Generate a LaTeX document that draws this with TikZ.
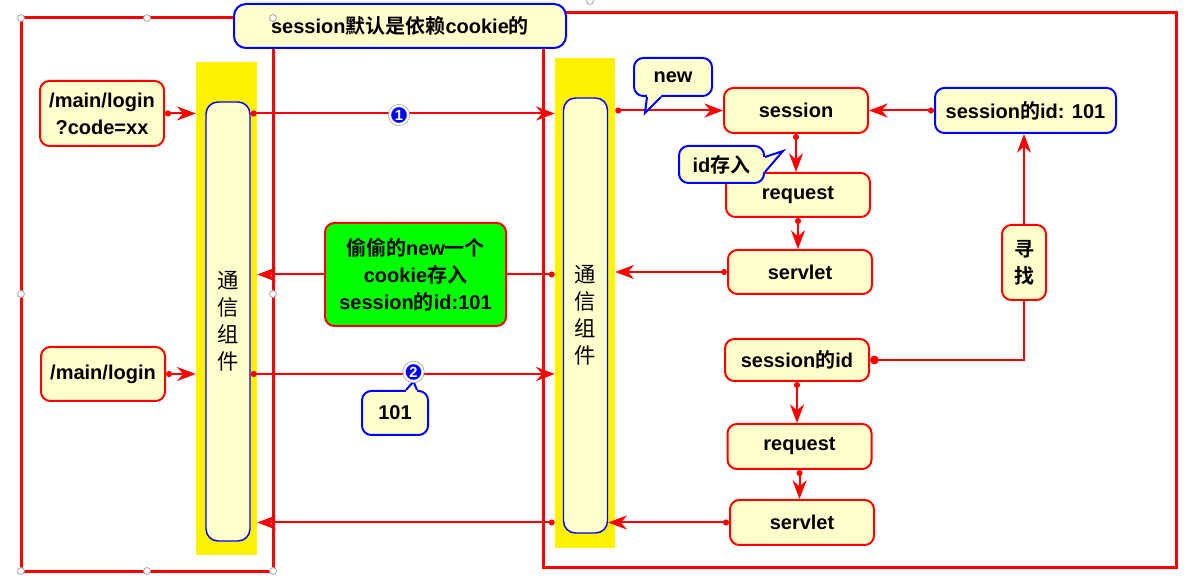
\documentclass[tikz,border=0pt]{standalone}
\usepackage{fontspec}
\setmainfont{Liberation Sans}
\newfontfamily\cjk{Noto Sans CJK SC}[BoldFont={Noto Sans CJK SC Bold}]
\usetikzlibrary{arrows.meta}
\usepackage{xcolor}

\definecolor{paleyellow}{HTML}{FFFFCC}
\definecolor{linkred}{HTML}{FF0000}
\definecolor{calloutblue}{HTML}{0000FF}
\definecolor{stealgreen}{HTML}{00FF00}
\newcommand{\zh}[1]{{\cjk #1}}

\tikzset{
	frame/.style={draw=linkred, line width=2.25pt},
	strip/.style={fill=yellow, inner sep=0pt},
	comm/.style={draw=calloutblue, fill=paleyellow, line width=1.1pt, rounded corners=9pt, minimum width=33pt, inner sep=0pt, align=center, font=\cjk\fontsize{16}{20.25}\selectfont},
	redbox/.style={draw=linkred, fill=paleyellow, line width=1.5pt, rounded corners=7pt, inner sep=0pt, align=center, minimum width=108pt, minimum height=33.75pt, font=\fontsize{15}{20.25}\selectfont\bfseries},
	bluebox/.style={redbox, draw=calloutblue},
	tip/.style={-{Stealth[length=14pt,width=10.5pt,inset=4.5pt]}},
	arrow/.style={draw=linkred, line width=1.5pt, tip},
	link/.style={arrow, {Circle[length=4.5pt]}-{Stealth[length=14pt,width=10.5pt,inset=4.5pt]}},
	wire/.style={draw=linkred, line width=1.5pt, {Circle[length=4.5pt]}-},
	num/.style={circle, fill=calloutblue, draw=gray!70, double=white, double distance=1.4pt, line width=0.5pt, inner sep=0pt, minimum size=14pt, text=white, font=\fontsize{11}{11}\selectfont\bfseries},
	handle/.style={draw=gray!70, fill=white, line width=0.6pt}
}

\begin{document}
\begin{tikzpicture}[x=0.75pt, y=-0.75pt]
	% Parameters
	\def\r{2.6pt}
	
	\useasboundingbox (0,0) rectangle (1193,584);
	
	%frames
	\draw[frame] (21,18) rectangle (273,571);
	\draw[frame] (543,13) rectangle (1176,567);
	
	%strips
	\node[strip, minimum width=45.75pt, minimum height=369.75pt] (stripL) at (226.5,308.5) {};
	\node[strip, minimum width=45pt, minimum height=367.5pt] (stripR) at (585,303) {};
	\node[comm, minimum height=329.25pt] (comL) at (228,321.5) {通\\信\\组\\件};
	\node[comm, minimum height=326.25pt] (comR) at (585.5,315.5) {通\\信\\组\\件};
	
	%client
	\node[redbox, minimum width=93pt, minimum height=48.75pt] (lg1) at (102,113.5) {/main/login\\?code=xx};
	\node[redbox, minimum width=93pt, minimum height=40.5pt] (lg2) at (103,374) {/main/login};
	
	%server
	\node[redbox] (ss) at (796,110.5) {session};
	\node[bluebox, minimum width=135.75pt] (sid101) at (1025.5,110.5) {session\zh{的}id: 101};
	\node[redbox, minimum height=33pt] (req1) at (798,195) {request};
	\node[redbox, minimum height=33pt] (srv1) at (800,272) {servlet};
	\node[redbox, minimum width=33pt, minimum height=56.25pt] (find) at (1024,262.5) {\zh{寻}\\\zh{找}};
	\node[redbox, minimum height=31.5pt] (sid) at (797,360) {session\zh{的}id};
	\node[redbox] (req2) at (799.5,446.5) {request};
	\node[redbox] (srv2) at (802,522.5) {servlet};
	
	%cookie
	\node[redbox, fill=stealgreen, minimum width=135.75pt, minimum height=77.25pt] (steal) at (415.5,274.5) {\zh{偷偷的}new\zh{一个}\\cookie\zh{存入}\\session\zh{的}id:101};
	
	%arrows
	\draw[link] (lg1.east) -- (lg1.east -| stripL.west);
	\draw[link] (lg1.east -| comL.east) -- (lg1.east -| stripR.west);
	\draw[link] (stripR.east |- ss.west) -- (ss.west);
	\draw[link] (sid101.west) -- (ss.east);
	\draw[link] (ss.south) -- (ss.south |- req1.north);
	\draw[link] (req1.south) -- (req1.south |- srv1.north);
	\draw[link] (srv1.west) -- (srv1.west -| stripR.east);
	\draw[wire] (stripR.west |- steal.east) -- (steal.east);
	\draw[arrow] (steal.west) -- (steal.west -| stripL.east);
	\draw[arrow] (find.north) -- (find.north |- sid101.south);
	\draw[wire, {Circle[length=6.5pt]}-] (sid.east) -- (sid.east -| find.south) -- (find.south);
	\draw[link] (sid.south) -- (sid.south |- req2.north);
	\draw[link] (req2.south) -- (req2.south |- srv2.north);
	\draw[link] (srv2.west) -- (srv2.west -| comR.east);
	\draw[link] (stripR.west |- srv2.west) -- (stripL.east |- srv2.west);
	\draw[link] (lg2.east) -- (lg2.east -| stripL.west);
	\draw[link] (lg2.east -| comL.east) -- (lg2.east -| stripR.west);
	
	%callouts
	\node[bluebox, minimum width=58.5pt, minimum height=28.5pt] (new) at (673,77) {new};
	\coordinate (newtip) at (645,113);
	\fill[paleyellow] ([xshift=-19.5pt]new.south) -- (newtip) -- ([xshift=-9pt]new.south) -- ([xshift=-9pt,yshift=2pt]new.south) -- ([xshift=-19.5pt,yshift=2pt]new.south) -- cycle;
	\draw[calloutblue, line width=1.5pt] ([xshift=-19.5pt]new.south) -- (newtip) -- ([xshift=-9pt]new.south);
	
	\node[bluebox, minimum width=63.75pt, minimum height=27.75pt] (idin) at (721.5,164.5) {id\zh{存入}};
	\coordinate (idtip) at (783,151);
	\fill[paleyellow] ([yshift=5.6pt]idin.east) -- (idtip) -- ([yshift=-5.6pt]idin.east) -- ([xshift=-2pt,yshift=-5.6pt]idin.east) -- ([xshift=-2pt,yshift=5.6pt]idin.east) -- cycle;
	\draw[calloutblue, line width=1.5pt] ([yshift=5.6pt]idin.east) -- (idtip) -- ([yshift=-5.6pt]idin.east);
	
	\node[num] (n1) at (399,115) {1};
	\node[num] (n2) at (413.5,372) {2};
	
	\node[bluebox, minimum width=49.5pt, minimum height=33pt] (c101) at (395,413) {101};
	\fill[paleyellow] ([xshift=8.25pt]c101.north) -- (n2.south) -- ([xshift=16.5pt]c101.north) -- ([xshift=16.5pt,yshift=-2pt]c101.north) -- ([xshift=8.25pt,yshift=-2pt]c101.north) -- cycle;
	\draw[calloutblue, line width=1.5pt] ([xshift=8.25pt]c101.north) -- (n2.south) -- ([xshift=16.5pt]c101.north);
	\node[num] at (n2) {2};
	
	%title
	\node[bluebox, minimum width=249pt, minimum height=33pt, rounded corners=9pt] (title) at (400,26) {session\zh{默认是依赖}cookie\zh{的}};
	
	%handles
	\foreach \p in {(21,18),(147,18),(273,18),(21,294),(273,294),(21,571),(147,571),(273,571),(590,1)} {
		\draw[handle] \p circle (\r);
	}
\end{tikzpicture}
\end{document}
